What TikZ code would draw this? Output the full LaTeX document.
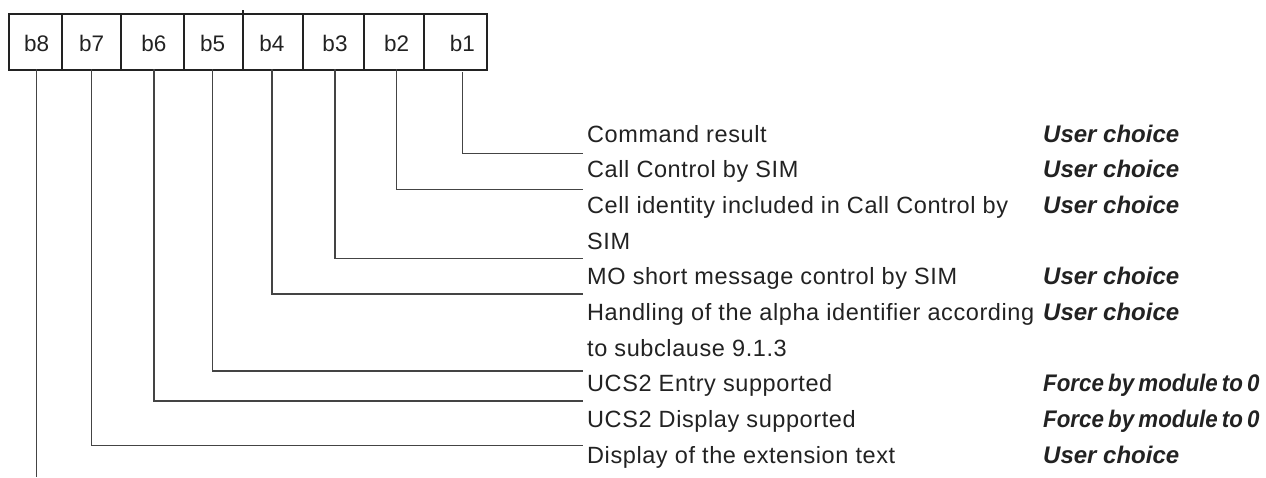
\documentclass[tikz,border=0pt]{standalone}
\usepackage{graphicx}
\usepackage{fontspec}
\setmainfont{Liberation Sans}
\newfontfamily\rowfont[LetterSpace=2.5]{Liberation Sans}
\newcommand\fgap{\hspace{4.5pt}}
\newcommand\forcetxt{\scalebox{0.93}[1]{Force\fgap by\fgap module\fgap to\fgap 0}}
\definecolor{ink}{HTML}{222222}
\definecolor{wire}{HTML}{444444}
\begin{document}
\begin{tikzpicture}[x=1pt,y=-1pt,
  boxline/.style={draw=ink,line width=2pt},
  bitlabel/.style={anchor=base,inner sep=0pt,text=ink,font=\fontsize{22.5}{26}\selectfont},
  rowtext/.style={anchor=base west,inner sep=0pt,text=ink,font=\fontsize{23.5}{27}\rowfont},
  choice/.style={anchor=base west,inner sep=0pt,text=ink,font=\fontsize{24}{28}\selectfont\bfseries\itshape},
  conn/.style={draw=wire,line width=1.2pt}]
\useasboundingbox (0,0) rectangle (1266,477);
% register box
\node[boxline,minimum width=478pt,minimum height=55.5pt,inner sep=0pt,anchor=north west] (bx) at (8,13) {};
\foreach \xd in {62.3,121.3,184.3,302.7,364.3,424.3}
  \draw[boxline] (\xd,13) -- (\xd,68.5);
\draw[boxline] (243.3,10) -- (243.3,68.5);
% bit labels
\node[bitlabel] (l8) at (36.7,51.7) {b8};
\node[bitlabel] (l7) at (91.7,51.7) {b7};
\node[bitlabel] (l6) at (154,51.7) {b6};
\node[bitlabel] (l5) at (212.7,51.7) {b5};
\node[bitlabel] (l4) at (272,51.7) {b4};
\node[bitlabel] (l3) at (335,51.7) {b3};
\node[bitlabel] (l2) at (396.7,51.7) {b2};
\node[bitlabel] (l1) at (462.3,51.7) {b1};
% description rows
\node[rowtext] (r0) at (587,142) {Command result};
\node[rowtext] (r1) at (587,177.7) {Call Control by SIM};
\node[rowtext] (r2) at (587,213.4) {Cell identity included in Call Control by};
\node[rowtext] (r3) at (587,249.1) {SIM};
\node[rowtext] (r4) at (587,284.8) {MO short message control by SIM};
\node[rowtext] (r5) at (587,320.5) {Handling of the alpha identifier according};
\node[rowtext] (r6) at (587,356.2) {to subclause 9.1.3};
\node[rowtext] (r7) at (587,391.9) {UCS2 Entry supported};
\node[rowtext] (r8) at (587,427.6) {UCS2 Display supported};
\node[rowtext] (r9) at (587,463.3) {Display of the extension text};
% choices
\node[choice] (s0) at (1043,142) {User choice};
\node[choice] (s1) at (1043,177.7) {User choice};
\node[choice] (s2) at (1043,213.4) {User choice};
\node[choice] (s4) at (1043,284.8) {User choice};
\node[choice] (s5) at (1043,320.5) {User choice};
\node[choice] (s7) at (1043,391.9) {\forcetxt};
\node[choice] (s8) at (1043,427.6) {\forcetxt};
\node[choice] (s9) at (1043,463.3) {User choice};
% connector ends
\coordinate (e1) at (583.3,153.3);
\coordinate (e2) at (583.3,189.3);
\coordinate (e3) at (583.3,258.3);
\coordinate (e4) at (583.3,294);
\coordinate (e5) at (583.3,371);
\coordinate (e6) at (583.3,401);
\coordinate (e7) at (583.3,445.7);
\coordinate (e8) at (36.7,477);
\coordinate (bb) at (0,69.3);
\coordinate (bb1) at (0,72);
% connectors
\draw[conn] (l1 |- bb1) |- (e1);
\draw[conn] (l2 |- bb) |- (e2);
\draw[conn] (l3 |- bb) |- (e3);
\draw[conn] (l4 |- bb) |- (e4);
\draw[conn] (l5 |- bb) |- (e5);
\draw[conn] (l6 |- bb) |- (e6);
\draw[conn] (l7 |- bb) |- (e7);
\draw[conn] (l8 |- bb) -- (e8);
\end{tikzpicture}
\end{document}
